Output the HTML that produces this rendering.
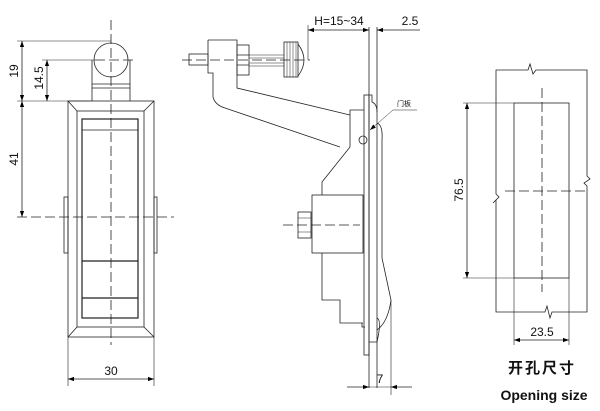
<!DOCTYPE html>
<html><head><meta charset="utf-8"><style>html,body{margin:0;padding:0;background:#fff}svg{display:block}</style></head><body>
<svg width="600" height="411" viewBox="0 0 600 411" xmlns="http://www.w3.org/2000/svg" font-family="Liberation Sans, sans-serif">
<defs>
<marker id="a" viewBox="0 0 10 10" refX="10" refY="5" markerWidth="8" markerHeight="6" orient="auto-start-reverse" markerUnits="userSpaceOnUse"><path d="M0,1.5 L10,5 L0,8.5 z" fill="#000"/></marker>
</defs>
<g fill="none" stroke="#222" stroke-width="0.8">
<!-- LEFT VIEW -->
<circle cx="111" cy="60" r="17"/>
<path d="M92,60 V101 M130,60 V101 M92,84 H130 M92,88 H130"/>
<rect x="68" y="101" width="86" height="236"/>
<rect x="77" y="111" width="67" height="216"/>
<path d="M68,101 L77,111 M154,101 L144,111 M68,337 L77,327 M154,337 L144,327"/>
<rect x="82" y="119" width="56" height="199" stroke-width="1.2"/>
<path d="M82,130 H138 M82,261 H138 M82,298 H138" />
<path d="M82,261 H138 M82,298 H138" stroke-width="1.2"/>
<rect x="64" y="197" width="4" height="56"/>
<rect x="154" y="197" width="3" height="56"/>
<path d="M111,20 V345 M17,217 H174 M95,60 H135" stroke-dasharray="10,4"/>
<!-- dims left -->
<path d="M17,41 H111 M17,101 H90 M42,60 H95 M68,337 V386 M154,337 V386" stroke-width="0.6"/>
<path d="M22,41 V101" marker-start="url(#a)" marker-end="url(#a)"/>
<path d="M47,60 V101" marker-start="url(#a)" marker-end="url(#a)"/>
<path d="M22,101 V217" marker-start="url(#a)" marker-end="url(#a)"/>
<path d="M68,379 H154" marker-start="url(#a)" marker-end="url(#a)"/>

<!-- MIDDLE VIEW -->
<path d="M369,27 V388 M377,27 V388"/>
<path d="M308,25 V60" stroke-width="0.6"/>
<path d="M308,30 H369" marker-start="url(#a)" marker-end="url(#a)"/>
<path d="M420,30 H377" marker-end="url(#a)"/>
<path d="M182,60 H310" stroke-dasharray="10,4"/>
<rect x="189" y="54" width="19" height="11"/>
<rect x="237" y="45" width="12" height="30"/>
<path d="M237,55 H249 M237,65 H249"/>
<path d="M249,55 H284 M249,66 H284 M249,58 H284 M249,63 H284" stroke-width="0.5"/>
<rect x="284" y="42" width="14" height="35"/>
<path d="M287,42 V77 M290,42 V77 M293,42 V77 M296,42 V77" stroke-width="0.5"/>
<path d="M298,44 Q310,60 298,76"/>
<path d="M208,40 H237 V88 L350,115 M208,40 V73 H213 V97 Q215,105 225,108 L340,147"/>
<path d="M350,115 L350,110 L364,110 M350,115 V147 L322,182 V195"/>
<rect x="312" y="195" width="51" height="58"/>
<rect x="298" y="212" width="13" height="26"/>
<path d="M298,218 H311 M298,232 H311" stroke-width="0.5"/>
<path d="M283,225 H360" stroke-dasharray="10,4"/>
<path d="M322,253 V300 H340 V323 H363 M362,323 V327 H365"/>
<rect x="364" y="95" width="5" height="260"/>
<path d="M369,95 H372 V102 Q377,104 377,112 M377,123 Q383,125 382,140 V258 L391,300 Q388,322 377,330"/>
<path d="M377,318 Q382,320 377,342 H369"/>
<circle cx="363" cy="140" r="4"/>
<path d="M417,110 H393 L370,130" stroke-width="0.5" marker-end="url(#a)"/>
<path d="M391,300 V395" stroke-width="0.6"/>
<path d="M347,387 H369" marker-end="url(#a)"/>
<path d="M412,387 H391" marker-end="url(#a)"/>
<path d="M369,387 H391" stroke-width="0.6"/>

<!-- RIGHT VIEW -->
<path d="M496,70 H528 L530,64 L533,74 L536,70 H587 V176 L590,179 L584,183 L587,186 V312 H552 L550,318 L547,306 L545,312 H496 V200 L493,203 L499,197 L496,194 Z"/>
<rect x="514" y="103" width="55" height="175"/>
<path d="M463,103 H514 M463,278 H514 M514,278 V345 M569,278 V345" stroke-width="0.6"/>
<path d="M467,103 V278" marker-start="url(#a)" marker-end="url(#a)"/>
<path d="M514,340 H569" marker-start="url(#a)" marker-end="url(#a)"/>
<path d="M542,88 V292 M505,191 H586" stroke-dasharray="10,4"/>
</g>
<g fill="#111" font-size="12">
<text x="111" y="375" text-anchor="middle">30</text>
<text transform="translate(18,71) rotate(-90)" text-anchor="middle">19</text>
<text transform="translate(43,78) rotate(-90)" text-anchor="middle">14.5</text>
<text transform="translate(18,159) rotate(-90)" text-anchor="middle">41</text>
<text x="339" y="25" text-anchor="middle">H=15~34</text>
<text x="410" y="25" text-anchor="middle">2.5</text>
<text x="380" y="383" text-anchor="middle">7</text>
<text x="404" y="106" font-size="7" text-anchor="middle" font-family="Noto Sans CJK SC, sans-serif">门板</text>
<text transform="translate(463,190) rotate(-90)" text-anchor="middle">76.5</text>
<text x="542" y="336" text-anchor="middle">23.5</text>
<text x="542" y="373" text-anchor="middle" font-size="15" font-weight="bold" font-family="Liberation Sans, Noto Sans CJK SC, sans-serif" letter-spacing="2">开孔尺寸</text>
<text x="544" y="400" text-anchor="middle" font-size="14" font-weight="bold">Opening size</text>
</g>
</svg>
</body></html>
